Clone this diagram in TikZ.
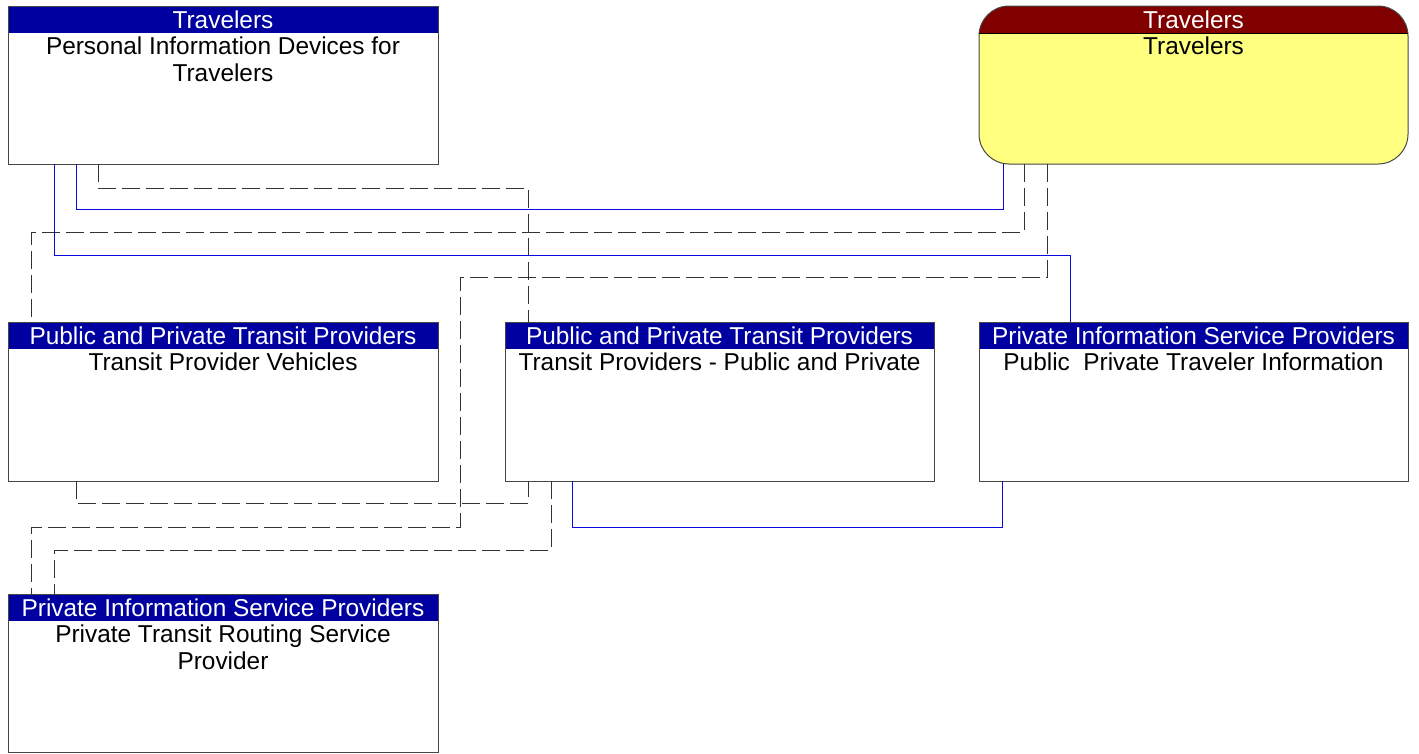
\documentclass[tikz,border=0pt]{standalone}
\usepackage{fontspec}
\setmainfont{Liberation Sans}
\definecolor{hdrblue}{RGB}{0,0,160}
\definecolor{hdrred}{RGB}{128,0,0}
\definecolor{travfill}{RGB}{255,255,128}
\definecolor{flowblue}{RGB}{10,10,220}
\definecolor{boxline}{RGB}{70,70,70}
\tikzset{
  elem/.style={fill=white, minimum width=430pt, minimum height=158pt, anchor=north west, inner sep=0pt, outer sep=0pt},
  hdr/.style={fill=hdrblue, text=white, minimum width=430pt, minimum height=27pt, anchor=north west, inner sep=0pt, outer sep=0pt, font=\fontsize{24.4}{27}\selectfont},
  bodytext/.style={anchor=north, align=center, inner sep=0pt, font=\fontsize{24.4}{27}\selectfont},
  frame/.style={draw=boxline, line width=1pt},
  dashflow/.style={draw=black!80, line width=1pt, dash pattern=on 18pt off 6pt},
  solidflow/.style={draw=flowblue, line width=1pt},
}
\begin{document}
\begin{tikzpicture}[x=1pt,y=-1pt]
\useasboundingbox (0,0) rectangle (1419,753);

% Personal Information Devices
\node[elem] (pid) at (8,6) {};
\node[hdr] (pidh) at (pid.north west) {Travelers};
\draw[frame] (pid.north west) rectangle (pid.south east);
\node[bodytext] (pidt) at ([yshift=-31pt]pid.north) {Personal Information Devices for\\Travelers};

% Travelers (rounded)
\node[elem, fill=travfill, minimum width=429pt, rounded corners=30pt] (trav) at (979,6) {};
\begin{scope}
  \clip[rounded corners=30pt] (trav.north west) rectangle (trav.south east);
  \fill[hdrred] (trav.north west) rectangle ([yshift=-27pt]trav.north east);
\end{scope}
\draw[frame, rounded corners=30pt] (trav.north west) rectangle (trav.south east);
\draw[draw=black, line width=1pt] ([yshift=-27pt]trav.north west) -- ([yshift=-27pt]trav.north east);
\node[text=white, font=\fontsize{24.4}{27}\selectfont, inner sep=0pt] (travh) at ([yshift=-13.5pt]trav.north) {Travelers};
\node[bodytext] (travt) at ([yshift=-31pt]trav.north) {Travelers};

% Transit Provider Vehicles
\node[elem, minimum height=159pt] (tpv) at (8,322) {};
\node[hdr] (tpvh) at (tpv.north west) {Public and Private Transit Providers};
\draw[frame] (tpv.north west) rectangle (tpv.south east);
\node[bodytext] (tpvt) at ([yshift=-31pt]tpv.north) {Transit Provider Vehicles};

% Transit Providers - Public and Private
\node[elem, minimum width=429pt, minimum height=159pt] (tpp) at (505,322) {};
\node[hdr, minimum width=429pt] (tpph) at (tpp.north west) {Public and Private Transit Providers};
\draw[frame] (tpp.north west) rectangle (tpp.south east);
\node[bodytext] (tppt) at ([yshift=-31pt]tpp.north) {Transit Providers - Public and Private};

% Public Private Traveler Information
\node[elem, minimum width=429pt, minimum height=159pt] (ppti) at (979,322) {};
\node[hdr, minimum width=429pt] (pptih) at (ppti.north west) {Private Information Service Providers};
\draw[frame] (ppti.north west) rectangle (ppti.south east);
\node[bodytext] (pptit) at ([yshift=-31pt]ppti.north) {Public\ \ Private Traveler Information};

% Private Transit Routing Service Provider
\node[elem] (ptrs) at (8,594) {};
\node[hdr] (ptrsh) at (ptrs.north west) {Private Information Service Providers};
\draw[frame] (ptrs.north west) rectangle (ptrs.south east);
\node[bodytext] (ptrst) at ([yshift=-31pt]ptrs.north) {Private Transit Routing Service\\Provider};

% connectors
\draw[dashflow] ([xshift=90pt]pid.south west) -- ++(0,24) -| ([xshift=23pt]tpp.north west);
\draw[solidflow] ([xshift=68.5pt]pid.south west) -- ++(0,45) -| ([xshift=24pt]trav.south west);
\draw[dashflow] ([xshift=45pt]trav.south west) -- ++(0,68) -| ([xshift=23pt]tpv.north west);
\draw[solidflow] ([xshift=46pt]pid.south west) -- ++(0,91) -| ([xshift=91pt]ppti.north west);
\draw[dashflow] ([xshift=68pt]trav.south west) -- ++(0,113) -- ++(-587,0) -- ++(0,250) -| ([xshift=23pt]ptrs.north west);
\draw[dashflow] ([xshift=68pt]tpv.south west) -- ++(0,22) -| ([xshift=23pt]tpp.south west);
\draw[dashflow] ([xshift=46pt]tpp.south west) -- ++(0,69) -| ([xshift=46pt]ptrs.north west);
\draw[solidflow] ([xshift=67pt]tpp.south west) -- ++(0,46) -| ([xshift=23pt]ppti.south west);
\end{tikzpicture}
\end{document}
